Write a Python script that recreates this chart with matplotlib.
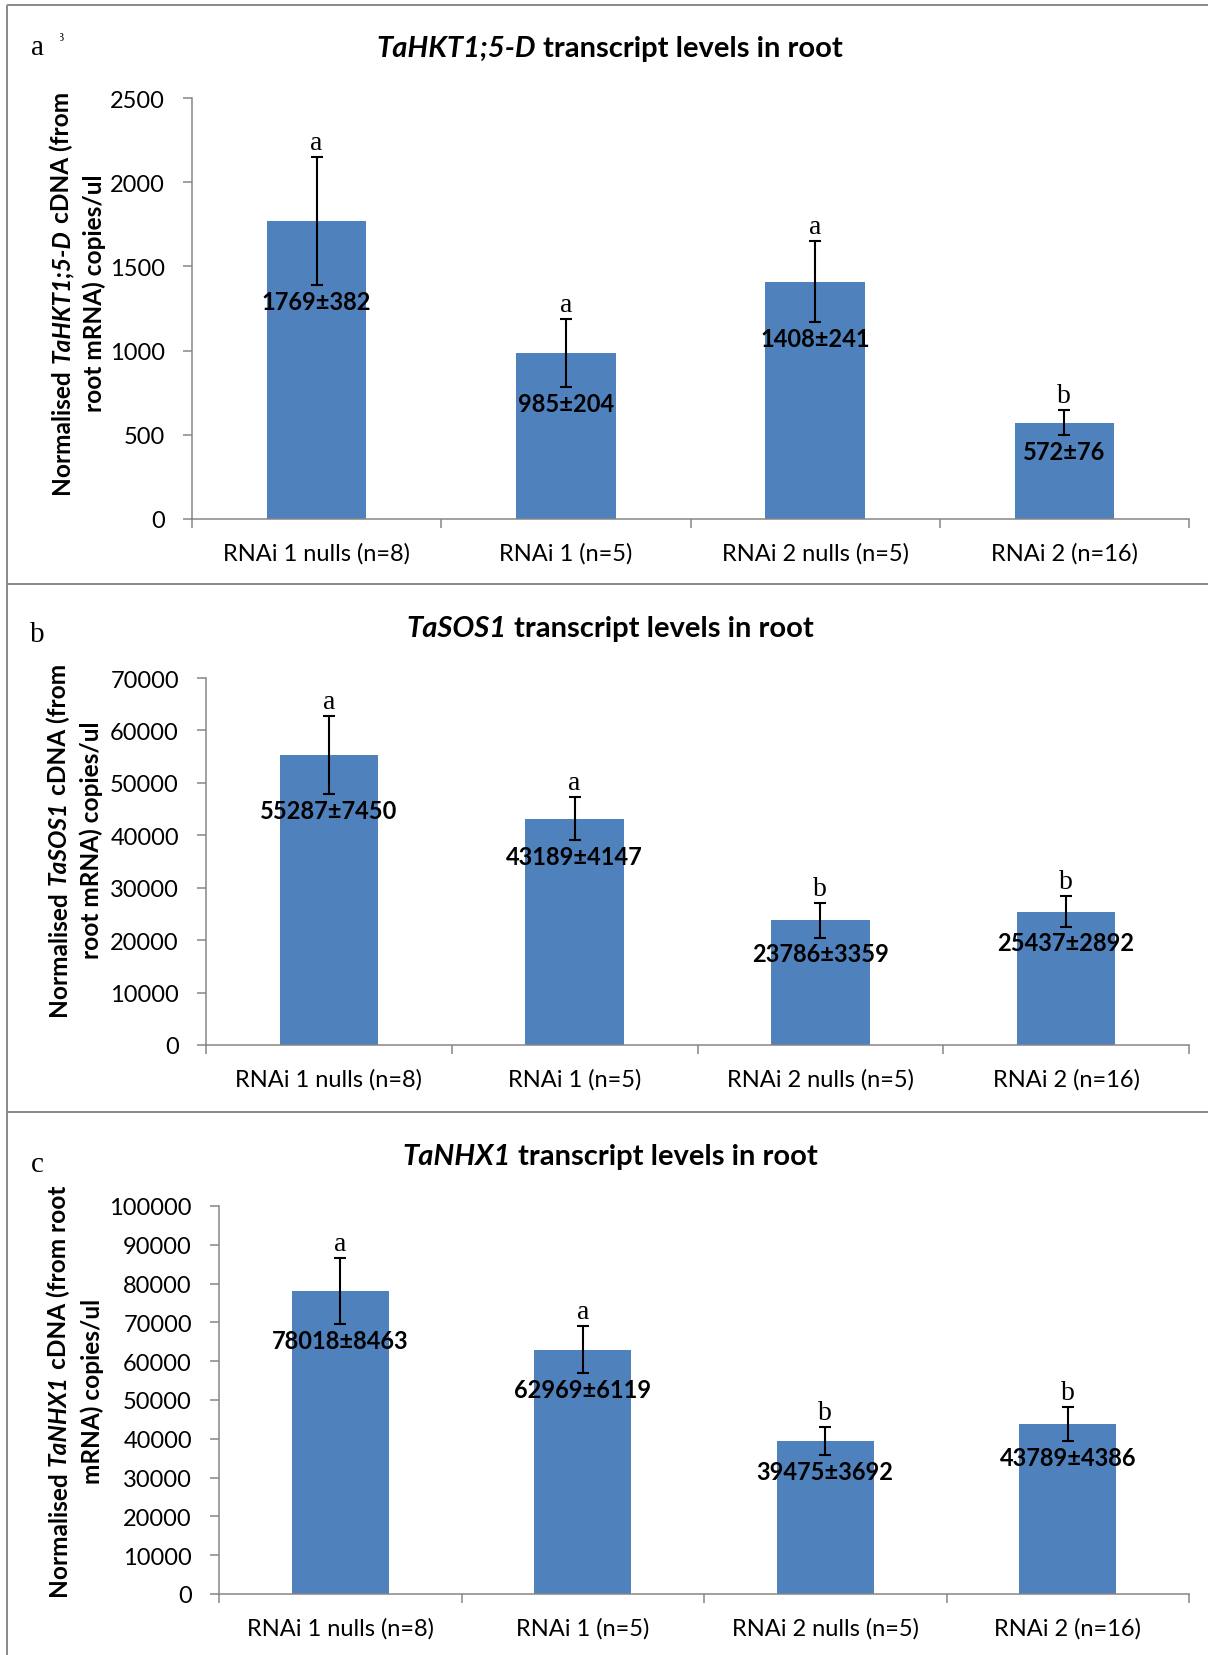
import matplotlib
matplotlib.use("Agg")
import matplotlib.pyplot as plt
import numpy as np
from matplotlib.lines import Line2D
from matplotlib.transforms import Bbox

# ---------------- data ----------------
categories = ["RNAi 1 nulls (n=8)", "RNAi 1 (n=5)", "RNAi 2 nulls (n=5)", "RNAi 2 (n=16)"]

hkt_means = [1769, 985, 1408, 572]
hkt_errs = [382, 204, 241, 76]
hkt_letters = ["a", "a", "a", "b"]
hkt_yticks = [0, 500, 1000, 1500, 2000, 2500]

sos_means = [55287, 43189, 23786, 25437]
sos_errs = [7450, 4147, 3359, 2892]
sos_letters = ["a", "a", "b", "b"]
sos_yticks = [0, 10000, 20000, 30000, 40000, 50000, 60000, 70000]

nhx_means = [78018, 62969, 39475, 43789]
nhx_errs = [8463, 6119, 3692, 4386]
nhx_letters = ["a", "a", "b", "b"]
nhx_yticks = [0, 10000, 20000, 30000, 40000, 50000, 60000, 70000, 80000, 90000, 100000]

genes = ["TaHKT1;5-D", "TaSOS1", "TaNHX1"]
panel_tags = ["a", "b", "c"]

# ---------------- style ----------------
W, H = 1208, 1656
SANS = "Lato"
SERIF = "Liberation Serif"
BAR = "#4F81BD"
GRAY = "#868686"
FRAME = "#8c8c8c"
TICK_FS = 17
TITLE_FS = 21
YLAB_FS = 17.6
VAL_FS = 17
LET_FS = 20
TAG_FS = 21
PX = 0.72  # points per pixel at dpi=100

fig = plt.figure(figsize=(W / 100, H / 100), dpi=100)
fig.patch.set_facecolor("white")
renderer = fig.canvas.get_renderer()


def ink_len(s, rot, **kw):
    t = fig.text(0.5, 0.5, s, rotation=rot, rotation_mode="anchor", **kw)
    e = t.get_window_extent(renderer)
    t.remove()
    return e.height if rot == 90 else e.width


def space_w(size):
    kw = dict(fontsize=size, family=SANS, fontweight="bold")
    return ink_len("a a", 0, **kw) - ink_len("aa", 0, **kw)


def rich(pieces, size, along_center, across, vertical=False, clip_top=None):
    """pieces: list of (text, style); words separated by one space between pieces.
    horizontal: along_center = x centre (px), across = baseline y (px from top)
    vertical:   along_center = y centre (px from top), across = baseline x (px)"""
    rot = 90 if vertical else 0
    kws = [dict(fontsize=size, family=SANS, fontweight="bold", fontstyle=st) for s, st in pieces]
    lens = [ink_len(s, rot, **kw) for (s, st), kw in zip(pieces, kws)]
    gap = space_w(size)
    total = sum(lens) + gap * (len(pieces) - 1)
    if vertical:
        pos = (H - along_center) - total / 2  # display y of start (bottom)
    else:
        pos = along_center - total / 2       # display x of start (left)
    for (s, st), kw, ln in zip(pieces, kws, lens):
        if vertical:
            t = fig.text(across / W, pos / H, s, rotation=90, rotation_mode="anchor",
                         ha="left", va="baseline", **kw)
            e = t.get_window_extent(renderer)
            t.set_y((pos + (pos - e.y0)) / H)
            if clip_top is not None:
                t.set_clip_box(Bbox.from_extents(0, 0, W, H - clip_top))
                t.set_clip_on(True)
        else:
            t = fig.text(pos / W, 1 - across / H, s, ha="left", va="baseline", **kw)
            e = t.get_window_extent(renderer)
            t.set_x((pos + (pos - e.x0)) / W)
        pos += ln + gap


def frame_line(x0, y0, x1, y1):
    fig.add_artist(Line2D([x0 / W, x1 / W], [1 - y0 / H, 1 - y1 / H], color=FRAME,
                          lw=2 * PX, transform=fig.transFigure, solid_capstyle="butt"))


# panel geometry in pixels (left, top, right, bottom)
panels = [
    dict(box=(192, 99, 1189, 520), means=hkt_means, errs=hkt_errs, letters=hkt_letters,
         yticks=hkt_yticks, title_y=57, tag_y=55,
         ylab=([("Normalised", "normal"), (genes[0], "italic"), ("cDNA (from", "normal")],
               [("root mRNA) copies/ul", "normal")]),
         ylab_x=(69, 102), ylab_cy=293, clip=None),
    dict(box=(206, 679, 1189, 1046), means=sos_means, errs=sos_errs, letters=sos_letters,
         yticks=sos_yticks, title_y=637, tag_y=642,
         ylab=([("Normalised", "normal"), (genes[1], "italic"), ("cDNA (from", "normal")],
               [("root mRNA) copies/ul", "normal")]),
         ylab_x=(66, 99), ylab_cy=840, clip=None),
    dict(box=(219, 1207, 1189, 1595), means=nhx_means, errs=nhx_errs, letters=nhx_letters,
         yticks=nhx_yticks, title_y=1165, tag_y=1172,
         ylab=([("Normalised", "normal"), (genes[2], "italic"), ("cDNA (from root", "normal")],
               [("mRNA) copies/ul", "normal")]),
         ylab_x=(66, 100), ylab_cy=1391, clip=1188),
]

x = np.arange(len(categories))
for i, p in enumerate(panels):
    l, t, r, b = p["box"]
    ax = fig.add_axes([l / W, 1 - b / H, (r - l) / W, (b - t) / H])
    ax.bar(x, p["means"], width=0.4, color=BAR, zorder=2)
    ax.errorbar(x, p["means"], yerr=p["errs"], fmt="none", ecolor="black",
                elinewidth=1.5, capsize=4.5, capthick=1.5, zorder=3)
    ax.set_xlim(-0.5, len(categories) - 0.5)
    ax.set_ylim(0, p["yticks"][-1])
    ax.set_yticks(p["yticks"])
    ax.set_yticklabels([str(v) for v in p["yticks"]], family=SANS, fontsize=TICK_FS)
    ax.set_xticks(np.arange(-0.5, len(categories), 1.0))
    ax.set_xticklabels([])
    ax.set_xticks(x, minor=True)
    ax.set_xticklabels(categories, minor=True, family=SANS, fontsize=TICK_FS)
    ax.tick_params(axis="x", which="major", length=6.5, width=1.1, color=GRAY, direction="out")
    ax.tick_params(axis="x", which="minor", length=0, pad=16.5)
    ax.tick_params(axis="y", length=6.5, width=1.1, color=GRAY, direction="out", pad=13)
    for side in ("top", "right"):
        ax.spines[side].set_visible(False)
    for side in ("left", "bottom"):
        ax.spines[side].set_color(GRAY)
        ax.spines[side].set_linewidth(1.1)
    ax.set_facecolor("none")

    for xi, m, e, let in zip(x, p["means"], p["errs"], p["letters"]):
        ax.annotate(f"{m}\u00b1{e}", xy=(xi, m - e), xytext=(0, -16 * PX),
                    textcoords="offset points", ha="center", va="center",
                    family=SANS, fontweight="bold", fontsize=VAL_FS, zorder=4)
        ax.annotate(let, xy=(xi, m + e), xytext=(0, 8 * PX), textcoords="offset points",
                    ha="center", va="baseline", family=SERIF, fontsize=LET_FS, zorder=4)

    # title
    rich([(genes[i], "italic"), ("transcript levels in root", "normal")], TITLE_FS,
         610, p["title_y"])
    # panel tag
    fig.text(37 / W, 1 - p["tag_y"] / H, panel_tags[i], family=SERIF, fontsize=TAG_FS,
             ha="center", va="baseline")
    # y label (two lines)
    line1, line2 = p["ylab"]
    rich(line1, YLAB_FS, p["ylab_cy"], p["ylab_x"][0], vertical=True, clip_top=p["clip"])
    rich(line2, YLAB_FS, p["ylab_cy"], p["ylab_x"][1], vertical=True)

# small clipped stray glyph next to tag "a"
stray = fig.text(57 / W, 1 - 41 / H, "3", family=SERIF, fontsize=9, ha="left", va="baseline")
stray.set_clip_box(Bbox.from_extents(60, 0, W, H))
stray.set_clip_on(True)

# frame lines
frame_line(7, 6, W, 6)
frame_line(7, 6, 7, H)
frame_line(7, 585, W, 585)
frame_line(7, 1113, W, 1113)

fig.savefig("out.png", dpi=100, facecolor="white")
